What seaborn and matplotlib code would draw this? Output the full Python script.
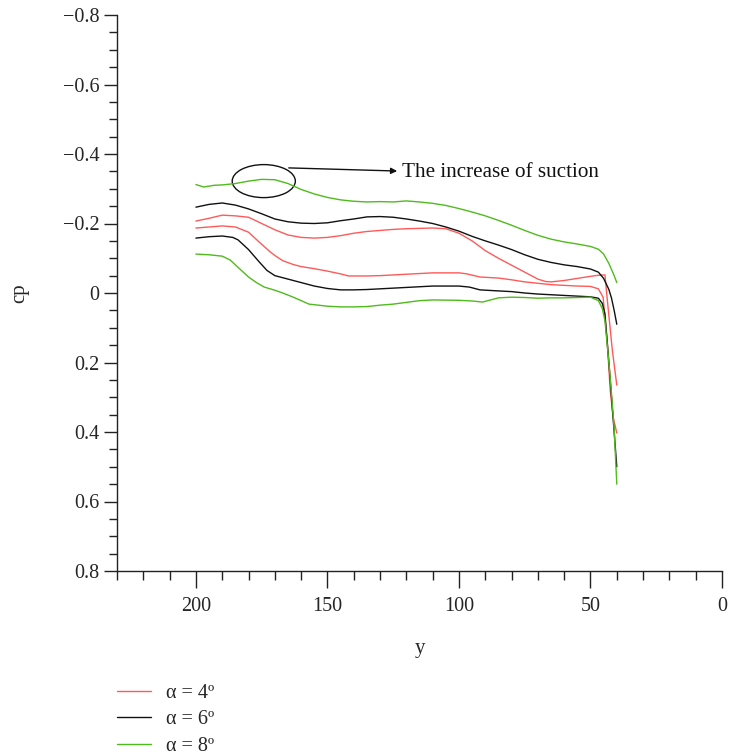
import numpy as np
import pandas as pd
import matplotlib
matplotlib.use("Agg")
import matplotlib.pyplot as plt
import seaborn as sns
from matplotlib.patches import Ellipse
from matplotlib.ticker import MultipleLocator, FixedLocator, FuncFormatter

# ---------------- data ----------------
alpha_labels = ["α = 4º", "α = 6º", "α = 8º"]

# alpha = 4 deg, upper curve
y4_up = [200, 195, 190, 185, 180, 175, 170, 165, 160, 155, 150, 145, 140, 135, 130, 125,
         120, 115, 110, 105, 100, 95, 90, 85, 80, 75, 70, 67, 65, 60, 55, 50, 47, 44.5,
         43.6, 41.7, 40]
cp4_up = [-0.207, -0.215, -0.224, -0.222, -0.218, -0.200, -0.182, -0.167, -0.160, -0.158,
          -0.160, -0.165, -0.172, -0.177, -0.180, -0.183, -0.185, -0.186, -0.187, -0.185,
          -0.172, -0.150, -0.122, -0.100, -0.080, -0.060, -0.040, -0.033, -0.032, -0.036,
          -0.042, -0.048, -0.051, -0.052, 0.020, 0.164, 0.265]
# alpha = 4 deg, lower curve
y4_lo = [200, 195, 190, 185, 180, 178, 175, 172, 170, 167, 163, 160, 155, 150, 145, 142,
         135, 130, 120, 110, 100, 97, 92, 85, 80, 75, 70, 65, 60, 55, 50, 47, 45.2, 43.6,
         42.5, 41.4, 40]
cp4_lo = [-0.187, -0.190, -0.193, -0.190, -0.175, -0.161, -0.140, -0.120, -0.108, -0.093,
          -0.082, -0.076, -0.070, -0.063, -0.055, -0.049, -0.049, -0.050, -0.054, -0.058,
          -0.058, -0.055, -0.046, -0.043, -0.038, -0.032, -0.028, -0.024, -0.022, -0.020,
          -0.019, -0.012, 0.012, 0.144, 0.279, 0.357, 0.403]

# alpha = 6 deg, upper curve
y6_up = [200, 195, 190, 185, 180, 175, 170, 165, 160, 155, 150, 145, 140, 135, 130, 125,
         120, 115, 110, 105, 100, 95, 90, 85, 80, 75, 70, 65, 60, 55, 50, 47, 45, 43,
         42, 41, 40]
cp6_up = [-0.247, -0.255, -0.259, -0.253, -0.242, -0.228, -0.213, -0.205, -0.201, -0.200,
          -0.202, -0.208, -0.213, -0.219, -0.220, -0.218, -0.213, -0.207, -0.200, -0.190,
          -0.178, -0.163, -0.150, -0.138, -0.125, -0.110, -0.097, -0.088, -0.081, -0.076,
          -0.069, -0.060, -0.042, -0.010, 0.015, 0.050, 0.090]
# alpha = 6 deg, lower curve
y6_lo = [200, 195, 190, 186, 184, 180, 176, 173, 170, 165, 160, 155, 150, 145, 140, 135,
         130, 120, 110, 100, 96, 92, 85, 80, 75, 70, 60, 50, 47, 45.5, 44.5, 43, 42, 41, 40]
cp6_lo = [-0.158, -0.162, -0.164, -0.160, -0.153, -0.125, -0.090, -0.065, -0.050, -0.040,
          -0.030, -0.020, -0.013, -0.009, -0.009, -0.010, -0.012, -0.016, -0.020, -0.020,
          -0.017, -0.009, -0.006, -0.004, 0.000, 0.003, 0.007, 0.011, 0.015, 0.030, 0.060,
          0.200, 0.300, 0.400, 0.500]

# alpha = 8 deg, upper curve
y8_up = [200, 197, 193, 190, 185, 180, 175, 170, 165, 160, 155, 150, 145, 140, 135, 130,
         125, 120, 115, 110, 105, 100, 95, 90, 85, 80, 75, 70, 65, 60, 55, 50, 47, 45,
         43, 41, 40]
cp8_up = [-0.312, -0.305, -0.310, -0.311, -0.315, -0.322, -0.327, -0.326, -0.315, -0.298,
          -0.285, -0.275, -0.268, -0.264, -0.262, -0.263, -0.262, -0.265, -0.262, -0.258,
          -0.252, -0.243, -0.233, -0.222, -0.209, -0.195, -0.180, -0.166, -0.155, -0.147,
          -0.141, -0.134, -0.126, -0.112, -0.085, -0.050, -0.030]
# alpha = 8 deg, lower curve
y8_lo = [200, 195, 190, 187, 185, 182, 180, 177, 174, 170, 167, 163, 160, 157, 150, 145,
         140, 135, 130, 125, 120, 115, 110, 100, 95, 91, 88, 85, 80, 75, 70, 65, 60, 50,
         47, 45.5, 44.5, 43, 42, 41, 40]
cp8_lo = [-0.112, -0.110, -0.106, -0.095, -0.081, -0.060, -0.046, -0.030, -0.017, -0.008,
          0.000, 0.012, 0.022, 0.032, 0.038, 0.040, 0.040, 0.039, 0.035, 0.032, 0.027,
          0.022, 0.020, 0.021, 0.023, 0.026, 0.020, 0.014, 0.012, 0.013, 0.015, 0.014,
          0.014, 0.012, 0.022, 0.045, 0.080, 0.200, 0.290, 0.390, 0.550]

x_ticks = [200, 150, 100, 50, 0]
y_ticks = [-0.8, -0.6, -0.4, -0.2, 0, 0.2, 0.4, 0.6, 0.8]

# ---------------- build long table ----------------
frames = []
for lab, surf, ys, cps in [
    (alpha_labels[0], "upper", y4_up, cp4_up), (alpha_labels[0], "lower", y4_lo, cp4_lo),
    (alpha_labels[1], "upper", y6_up, cp6_up), (alpha_labels[1], "lower", y6_lo, cp6_lo),
    (alpha_labels[2], "upper", y8_up, cp8_up), (alpha_labels[2], "lower", y8_lo, cp8_lo),
]:
    frames.append(pd.DataFrame({"y": ys, "cp": cps, "alpha": lab, "curve": lab + surf}))
df = pd.concat(frames, ignore_index=True)

# ---------------- style ----------------
sns.set_theme(style="ticks")
plt.rcParams["font.family"] = ["Liberation Serif", "DejaVu Serif"]
plt.rcParams["axes.unicode_minus"] = True

fig = plt.figure(figsize=(7.30, 7.55), dpi=100)
ax = fig.add_axes([117 / 730, 1 - 571 / 755, (722 - 117) / 730, (571 - 15) / 755])

palette = {alpha_labels[0]: "#ff5a5a", alpha_labels[1]: "#111111", alpha_labels[2]: "#4fbb1c"}
sns.lineplot(data=df, x="y", y="cp", hue="alpha", units="curve", estimator=None,
             sort=False, palette=palette, linewidth=1.0, ax=ax, legend=True)

ax.set_xlim(230, 0)
ax.set_ylim(0.8, -0.8)
for s in ["top", "right"]:
    ax.spines[s].set_visible(False)
for s in ["left", "bottom"]:
    ax.spines[s].set_color("#222222")
    ax.spines[s].set_linewidth(1.0)

ax.xaxis.set_major_locator(FixedLocator(x_ticks))
ax.xaxis.set_minor_locator(MultipleLocator(10))
ax.yaxis.set_major_locator(FixedLocator(y_ticks))
ax.yaxis.set_minor_locator(MultipleLocator(0.05))

def yfmt(v, pos):
    if abs(v) < 1e-9:
        return "0"
    return f"{v:.1f}".replace("-", "\u2212")

ax.yaxis.set_major_formatter(FuncFormatter(yfmt))
ax.xaxis.set_major_formatter(FuncFormatter(lambda v, p: f"{v:.0f}"))

ax.tick_params(axis="y", which="major", length=9.5, width=1.0, color="#222222",
               labelsize=14.5, pad=3)
ax.tick_params(axis="y", which="minor", length=6, width=1.0, color="#222222")
ax.tick_params(axis="x", which="major", length=12, width=1.0, color="#222222",
               labelsize=14.5, pad=7)
ax.tick_params(axis="x", which="minor", length=6.5, width=1.0, color="#222222")

ax.set_xlabel("y", fontsize=15, labelpad=16)
ax.set_ylabel("cp", fontsize=15, labelpad=24)

# annotation
ell = Ellipse((174.2, -0.322), width=24, height=0.095, fill=False,
              edgecolor="#111111", linewidth=1.0)
ax.add_patch(ell)
ax.annotate("", xy=(123.5, -0.351), xytext=(164.7, -0.360),
            arrowprops=dict(arrowstyle="-|>", color="#111111", lw=1.0,
                            mutation_scale=9, shrinkA=0, shrinkB=0))
ax.text(121.5, -0.347, "The increase of suction", fontsize=15.2,
        ha="left", va="center", color="#111111")

# legend below the axes
leg = ax.legend(loc="upper left", bbox_to_anchor=(117 / 730, 1 - 684 / 755),
                bbox_transform=fig.transFigure, frameon=False, fontsize=14.5,
                handlelength=1.7, handletextpad=0.75, labelspacing=0.36,
                borderaxespad=0, borderpad=0)
for line in leg.get_lines():
    line.set_linewidth(1.0)

fig.savefig("out.png", dpi=100)
